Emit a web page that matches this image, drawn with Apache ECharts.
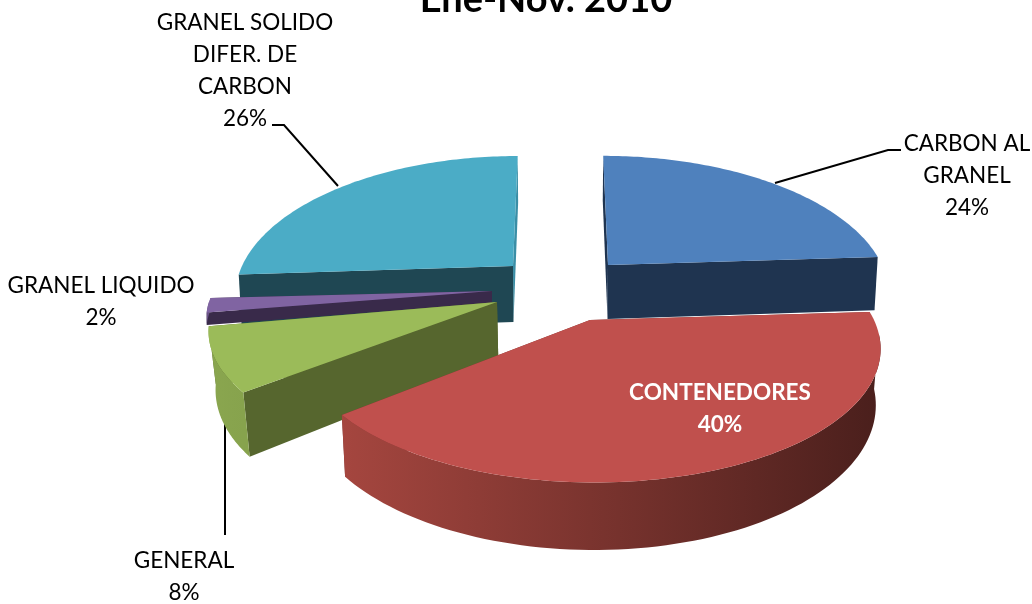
<!DOCTYPE html>
<html><head><meta charset="utf-8">
<style>html,body{margin:0;padding:0;background:#fff}#c{width:1032px;height:604px}</style>
<script src="https://cdn.jsdelivr.net/npm/echarts@6/dist/echarts.min.js"></script>
</head><body><div id="c"></div>
<script>
const titleText = 'Ene-Nov. 2010';
const categories = ['CARBON AL\nGRANEL', 'CONTENEDORES', 'GENERAL', 'GRANEL LIQUIDO', 'GRANEL SOLIDO\nDIFER. DE\nCARBON'];
const shares = [24, 40, 8, 2, 26];

// Look of each slice, same order as the categories
const apexX = [608, 590, 497, 492, 513];
const apexY = [265, 320, 302, 291, 266];
const radiusX = [274, 284, 281, 278, 271];
const radiusY = [131, 130, 124, 110, 132];
const depth = [54, 54, 56, 12, 56];
const bottomScale = [0.99, 0.985, 0.98, 1, 0.99];
const paintOrder = [1, 4, 3, 2, 0];
const topColors = ['#4f81bd', '#c0504d', '#9bbb59', '#8064a2', '#4bacc6'];
const startWall = ['#1f3450', '#6e2e2c', '#56662e', '#392a4a', '#1f4753'];
const endWall = ['#1f3450', '#7a3330', '#56662e', '#392a4a', '#3a8ea6'];
const rimLeft = ['#2d4a70', '#a5463f', '#8aa64f', '#6b5388', '#3a8ea6'];
const rimRight = ['#2d4a70', '#4a1f1c', '#87a34d', '#6b5388', '#3a8ea6'];
const labelX = [967, 720, 184, 101, 245];
const labelY = [176, 409, 577, 302, 71];
const labelColor = ['#000', '#fff', '#000', '#000', '#000'];
const labelWeight = ['normal', 'bold', 'normal', 'normal', 'normal'];
const leaders = [
  [[775, 183], [888, 150], [901, 150]],
  null,
  [[225, 420], [225, 535]],
  null,
  [[338, 186], [284, 125], [272, 125]]
];

const VX = 560, P = 0.2, APEX_SHIFT = 0.6, FONT = 'Lato, Carlito, sans-serif';
const total = shares.reduce((a, b) => a + b, 0);

function project(i, theta, bottom) {
  const u = Math.sin(theta), v = -Math.cos(theta);
  const s = 1 / (1 - P * v);
  const sa = 1 + (s - 1) * APEX_SHIFT;
  let x = VX + (apexX[i] - VX) * sa + radiusX[i] * u * s;
  let y = apexY[i] + radiusY[i] * v * s;
  if (bottom) { x = VX + (x - VX) * bottomScale[i]; y += depth[i] * s; }
  return [x, y];
}
function apex(i, bottom) {
  const x = bottom ? VX + (apexX[i] - VX) * bottomScale[i] : apexX[i];
  return [x, apexY[i] + (bottom ? depth[i] : 0)];
}

function renderSlice(params, api) {
  const i = params.dataIndex;
  const before = shares.slice(0, i).reduce((a, b) => a + b, 0);
  const a0 = before / total * 2 * Math.PI;
  const a1 = (before + api.value(0)) / total * 2 * Math.PI;
  const z = paintOrder[i] * 10 + 1;
  const steps = 90, arcTop = [], arcBottom = [];
  for (let k = 0; k <= steps; k++) {
    const t = a0 + (a1 - a0) * k / steps;
    if (-Math.cos(t) > 0.08) { arcBottom.push(project(i, t, true)); arcTop.push(project(i, t, false)); }
  }
  const topArc = [];
  for (let k = 0; k <= steps; k++) topArc.push(project(i, a0 + (a1 - a0) * k / steps, false));
  const wall = (t, color, zz) => ({
    type: 'polygon', z2: zz, silent: true,
    shape: { points: [apex(i, false), project(i, t, false), project(i, t, true), apex(i, true)] },
    style: { fill: color }
  });
  const children = [];
  // the radial wall further from the viewer goes first
  const startFirst = -Math.cos(a0) < -Math.cos(a1);
  children.push(wall(startFirst ? a0 : a1, startFirst ? startWall[i] : endWall[i], z));
  children.push(wall(startFirst ? a1 : a0, startFirst ? endWall[i] : startWall[i], z + 1));
  if (arcTop.length > 1) {
    const xs = arcTop.map(p => p[0]);
    children.push({
      type: 'polygon', z2: z + 2, silent: true,
      shape: { points: arcTop.concat(arcBottom.slice().reverse()) },
      style: { fill: { type: 'linear', global: true, x: Math.min(...xs), y: 0, x2: Math.max(...xs), y2: 0,
        colorStops: [{ offset: 0, color: rimLeft[i] }, { offset: 1, color: rimRight[i] }] } }
    });
  }
  children.push({
    type: 'polygon', z2: z + 3, silent: true,
    shape: { points: [apex(i, false)].concat(topArc) },
    style: { fill: topColors[i] }
  });
  if (leaders[i]) children.push({
    type: 'polyline', z2: 0, silent: true, shape: { points: leaders[i] },
    style: { stroke: '#000', lineWidth: 2, fill: null }
  });
  children.push({
    type: 'text', z2: 101, silent: true, x: labelX[i], y: labelY[i],
    style: {
      text: categories[i] + '\n' + api.value(0) + '%',
      fill: labelColor[i], font: labelWeight[i] + ' 22.5px ' + FONT,
      align: 'center', verticalAlign: 'middle', lineHeight: 32
    }
  });
  return { type: 'group', children };
}

const chart = echarts.init(document.getElementById('c'), null, { renderer: 'canvas' });
chart.setOption({
  animation: false,
  backgroundColor: '#fff',
  title: {
    text: titleText, left: 541, top: -24, textAlign: 'center',
    textStyle: { fontFamily: FONT, fontSize: 38, fontWeight: 'bold', color: '#000' }
  },
  series: [{
    type: 'custom', coordinateSystem: 'none', renderItem: renderSlice, silent: true,
    data: shares.map((v, i) => ({ name: categories[i], value: [v] }))
  }]
});
</script></body></html>
